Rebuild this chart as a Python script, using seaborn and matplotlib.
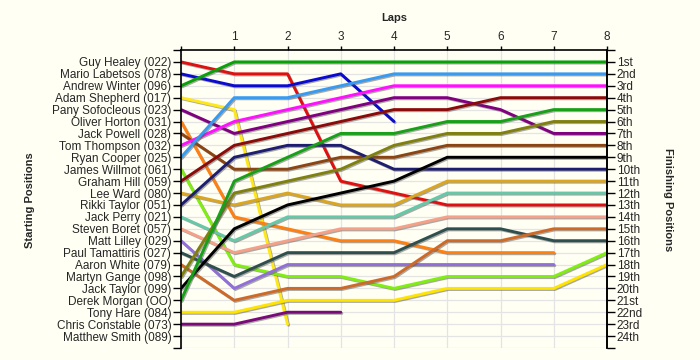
import pandas as pd
import numpy as np
import matplotlib as mpl
mpl.use('Agg')
import matplotlib.pyplot as plt
import matplotlib.patheffects as pe
import seaborn as sns

# data: starting grid order, then positions per lap (lap 0 = grid)
drivers = ['Guy Healey (022)', 'Mario Labetsos (078)', 'Andrew Winter (096)', 'Adam Shepherd (017)',
           'Pany Sofocleous (023)', 'Oliver Horton (031)', 'Jack Powell (028)', 'Tom Thompson (032)',
           'Ryan Cooper (025)', 'James Willmot (061)', 'Graham Hill (059)', 'Lee Ward (080)',
           'Rikki Taylor (051)', 'Jack Perry (021)', 'Steven Boret (057)', 'Matt Lilley (029)',
           'Paul Tamattiris (027)', 'Aaron White (079)', 'Martyn Gange (098)', 'Jack Taylor (099)',
           'Derek Morgan (OO)', 'Tony Hare (084)', 'Chris Constable (073)', 'Matthew Smith (089)']

finish_labels = ['1st', '2nd', '3rd', '4th', '5th', '6th', '7th', '8th', '9th', '10th', '11th', '12th',
                 '13th', '14th', '15th', '16th', '17th', '18th', '19th', '20th', '21st', '22nd', '23rd', '24th']

laps = [0, 1, 2, 3, 4, 5, 6, 7, 8]

healey    = [1, 2, 2, 11, 12, 13, 13, 13, 13]
labetsos  = [2, 3, 3, 2, 6]
winter    = [3, 1, 1, 1, 1, 1, 1, 1, 1]
shepherd  = [4, 5, 23]
sofocleous = [5, 7, 6, 5, 4, 4, 5, 7, 7]
horton    = [6, 14, 15, 16, 16, 17, 17, 17]
powell    = [7, 10, 10, 9, 9, 8, 8, 8, 8]
thompson  = [8, 6, 5, 4, 3, 3, 3, 3, 3]
cooper    = [9, 4, 4, 3, 2, 2, 2, 2, 2]
willmot   = [10, 18, 19, 19, 20, 19, 19, 19, 17]
hill      = [11, 8, 7, 6, 5, 5, 4, 4, 4]
ward      = [12, 13, 12, 13, 13, 11, 11, 11, 11]
r_taylor  = [13, 9, 8, 8, 10, 10, 10, 10, 10]
perry     = [14, 16, 14, 14, 14, 12, 12, 12, 12]
boret     = [15, 17, 16, 15, 15, 14, 14, 14, 14]
lilley    = [16, 20, 18, 18, 18, 18, 18, 18]
tamattiris = [17, 19, 17, 17, 17, 15, 15, 16, 16]
white     = [18, 21, 20, 20, 19, 16, 16, 15, 15]
gange     = [19, 12, 11, 10, 8, 7, 7, 6, 6]
j_taylor  = [20, 15, 13, 12, 11, 9, 9, 9, 9]
morgan    = [21, 11, 9, 7, 7, 6, 6, 5, 5]
hare      = [22, 22, 21, 21, 21, 20, 20, 20, 18]
constable = [23, 23, 22, 22]
smith     = []

series = [healey, labetsos, winter, shepherd, sofocleous, horton, powell, thompson, cooper, willmot,
          hill, ward, r_taylor, perry, boret, lilley, tamattiris, white, gange, j_taylor, morgan,
          hare, constable, smith]

colors = ['#e01010', '#0a0ad0', '#0aa00a', '#ffe81a', '#800080', '#ff8010', '#8b4513', '#ff10ff',
          '#3a9af0', '#80ee10', '#8b0a0a', '#daa520', '#1e1e70', '#66c8a8', '#f5a088', '#9070d8',
          '#2f4f4f', '#cd6a2a', '#808010', '#000000', '#18a018', '#ffe400', '#7a0a7a', '#999999']

rows = []
for name, pos in zip(drivers, series):
    for lap, p in zip(laps, pos):
        rows.append({'driver': name, 'lap': lap, 'pos': p})
df = pd.DataFrame(rows)

bg = '#fffff4'
sns.set_style('white')
plt.rcParams['font.family'] = ['Liberation Sans', 'DejaVu Sans']

fig = plt.figure(figsize=(7, 3.6), dpi=100, facecolor=bg)
ax = fig.add_axes([181/700, 1-348/360, 426/700, 298/360])
ax.set_facecolor(bg)

# grid
for lap in laps:
    ax.axvline(lap, color='#e4e4e4', lw=0.9, zorder=0)
for p in range(1, 26):
    ax.axhline(p, color='#e4e4e4', lw=0.9, zorder=0)

present = [d for d, s in zip(drivers, series) if len(s)]
pal = {d: c for d, c in zip(drivers, colors)}
sns.lineplot(data=df, x='lap', y='pos', hue='driver', hue_order=present, palette=pal,
             estimator=None, sort=False, legend=False, lw=2.1, ax=ax)
for ln in ax.lines:
    if ln.get_linewidth() >= 1.9:
        ln.set_path_effects([pe.SimpleLineShadow(offset=(0.8, -0.8), shadow_color='#555555', alpha=0.5),
                             pe.Normal()])

ax.set_xlim(0, 8)
ax.set_ylim(25, 0)
ax.set_xlabel('')
ax.set_ylabel('')

ax.xaxis.tick_top()
ax.set_xticks(laps)
ax.set_xticklabels([''] + [str(l) for l in laps[1:]], fontsize=8.5)
ax.set_yticks(range(0, 26))
ax.set_yticklabels([''] + drivers + [''], fontsize=8.5)
ax.tick_params(axis='y', direction='out', length=6, width=1, color='black', pad=1)
ax.tick_params(axis='x', direction='out', length=3, width=1, color='black', pad=2)

for side in ['left', 'right', 'top']:
    ax.spines[side].set_visible(True)
    ax.spines[side].set_color('black')
    ax.spines[side].set_linewidth(1.2)
ax.spines['bottom'].set_visible(False)

ax2 = ax.twinx()
ax2.set_ylim(25, 0)
ax2.set_yticks(range(0, 26))
ax2.set_yticklabels([''] + finish_labels + [''], fontsize=8.5)
ax2.tick_params(axis='y', direction='out', length=6, width=1, color='black', pad=1)
ax2.spines['right'].set_color('black')
ax2.spines['right'].set_linewidth(1.2)
ax2.spines['bottom'].set_visible(False)
ax2.spines['top'].set_visible(False)
ax2.spines['left'].set_visible(False)

fig.text(394/700, 1-18/360, 'Laps', ha='center', va='center', fontsize=8, fontweight='bold')
fig.text(30/700, 1-200/360, 'Starting Positions', ha='center', va='center', rotation=90,
         fontsize=8, fontweight='bold')
fig.text(668/700, 1-200/360, 'Finishing Positions', ha='center', va='center', rotation=270,
         fontsize=8, fontweight='bold')

fig.savefig('out.png', dpi=100, facecolor=bg)
